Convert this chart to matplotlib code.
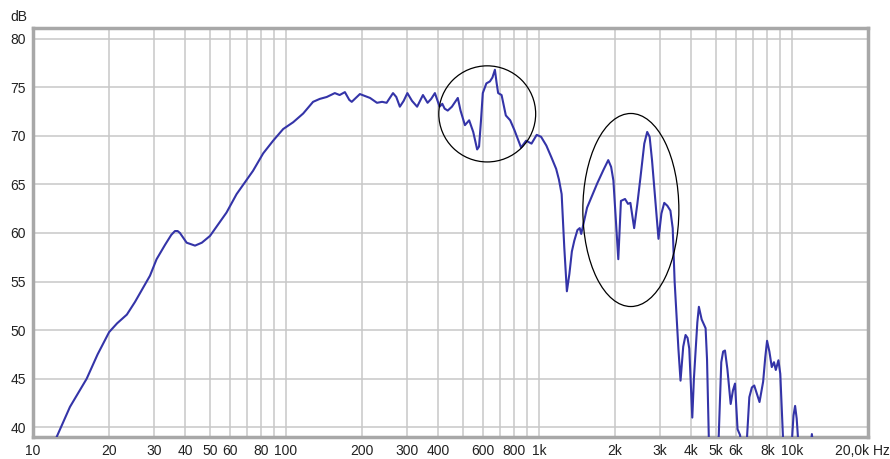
import matplotlib
matplotlib.use("Agg")
import matplotlib.pyplot as plt
from matplotlib.patches import Ellipse
from matplotlib.transforms import ScaledTranslation

plt.rcParams['font.family'] = ['Liberation Sans', 'DejaVu Sans']

# frequency response (Hz, dB)
freq = [12.4, 14.0, 16.3, 18.0, 20.0, 21.5, 23.5, 25.3, 29.0, 30.8, 33.3, 35.2, 36.4, 37.3, 38.1,
        40.5, 43.7, 46.5, 50.1, 54.0, 58.2, 63.8, 68.8, 74.1, 81.3, 89.0, 97.5,
        106.8, 117, 128, 136, 145, 156, 163, 171, 178, 182, 189, 196, 205, 215, 229, 240, 250,
        265, 273, 282, 292, 302, 315, 330, 348, 363, 375, 388, 405, 415, 424, 436, 453, 478, 490,
        510, 530, 550, 570, 580, 590, 600, 620, 640, 655, 670, 680, 690, 712, 740, 770, 800,
        850, 890, 935, 980, 1020, 1070, 1120, 1170, 1200, 1230, 1260, 1290, 1320, 1350,
        1380, 1420, 1450, 1470, 1550, 1620, 1700, 1800, 1880, 1930, 1970, 2060, 2110, 2190,
        2250, 2300, 2380, 2450, 2520, 2610, 2680, 2740, 2800, 2970, 3050, 3130, 3220, 3310,
        3380, 3440, 3560, 3630, 3720, 3800, 3870, 3930, 4040, 4100, 4170, 4230, 4290,
        4400, 4560, 4620, 4700, 4850, 5000, 5130, 5260, 5350, 5440, 5560, 5730, 5850, 5960,
        6100, 6240, 6400, 6600, 6790, 6950, 7100, 7450, 7700, 7850, 7980, 8150, 8330, 8500,
        8640, 8850, 9000, 9240, 9600, 10000, 10150, 10300, 10450, 10600, 11000, 11700, 12000,
        12300, 13000]
level = [39.0, 42.1, 45.0, 47.5, 49.8, 50.7, 51.6, 52.9, 55.6, 57.3, 58.8, 59.8, 60.2, 60.2, 60.0,
         59.0, 58.7, 59.0, 59.7, 60.9, 62.1, 64.0, 65.2, 66.4, 68.2, 69.5, 70.7,
         71.4, 72.3, 73.5, 73.8, 74.0, 74.4, 74.2, 74.5, 73.7, 73.5, 73.9, 74.3, 74.1, 73.9,
         73.4, 73.5, 73.4, 74.4, 74.0, 73.0, 73.6, 74.4, 73.6, 73.0, 74.2, 73.4, 73.8, 74.4,
         73.0, 73.3, 72.8, 72.6, 73.0, 73.9, 72.6, 71.1, 71.6, 70.4, 68.6, 68.9, 71.5, 74.4,
         75.4, 75.6, 76.0, 76.8, 75.5, 74.4, 74.2, 72.1, 71.6, 70.6, 68.8, 69.5, 69.2, 70.1,
         69.9, 69.0, 67.8, 66.6, 65.5, 64.0, 58.5, 54.0, 55.8, 58.1, 59.2, 60.3, 60.5, 59.9,
         62.6, 63.8, 65.1, 66.5, 67.5, 66.8, 65.4, 57.3, 63.3, 63.5, 63.0, 63.1, 60.5, 63.0,
         65.7, 69.2, 70.4, 69.9, 67.5, 59.4, 62.0, 63.1, 62.8, 62.3, 60.5, 55.0, 48.1, 44.8,
         48.3, 49.5, 49.2, 48.1, 41.0, 45.0, 48.1, 50.8, 52.4, 51.1, 50.2, 47.0, 38.5, 36.0,
         35.0, 38.5, 46.7, 47.8, 47.9, 46.0, 42.4, 43.8, 44.5, 39.8, 39.2, 37.0, 37.5, 43.1,
         44.1, 44.3, 42.6, 44.7, 47.2, 48.9, 47.8, 46.2, 46.7, 45.9, 46.9, 45.5, 38.5, 36.0,
         38.5, 41.2, 42.2, 40.9, 38.5, 36.0, 36.5, 39.3, 36.5, 35.0]

xticks = [10, 20, 30, 40, 50, 60, 80, 100, 200, 300, 400, 600, 800,
          1000, 2000, 3000, 4000, 5000, 6000, 8000, 10000, 20000]
xlabels = ['10', '20', '30', '40', '50', '60', '80', '100', '200', '300', '400',
           '600', '800', '1k', '2k', '3k', '4k', '5k', '6k', '8k', '10k', '20,0k Hz']
yticks = [40, 45, 50, 55, 60, 65, 70, 75, 80]

fig = plt.figure(figsize=(8.9, 4.59), dpi=100)
ax = fig.add_axes([33 / 890, 22 / 459, 835 / 890, 409 / 459])

ax.set_xscale('log')
ax.set_xlim(10, 20000)
ax.set_ylim(39, 81.1)

# grid at every 1..9 multiple of each decade
grid_f = [m * 10 ** d for d in range(1, 5) for m in range(1, 10) if m * 10 ** d <= 20000]
for g in grid_f:
    ax.axvline(g, color='#c8c8c8', lw=1.1, zorder=1)
for y in yticks:
    ax.axhline(y, color='#c8c8c8', lw=1.1, zorder=1)

ax.plot(freq, level, color='#3434a8', lw=1.5, zorder=3)

# highlighted regions
ax.add_patch(Ellipse((0.544, 0.790), 0.116, 0.235, transform=ax.transAxes,
                     fill=False, ec='black', lw=0.9, zorder=4))
ax.add_patch(Ellipse((0.716, 0.555), 0.115, 0.472, transform=ax.transAxes,
                     fill=False, ec='black', lw=0.9, zorder=4))

ax.set_xticks(xticks)
ax.set_xticklabels(xlabels)
ax.xaxis.set_minor_locator(plt.NullLocator())
ax.set_yticks(yticks)
ax.tick_params(length=0, labelsize=10, colors='#222222', pad=5)
last = ax.get_xticklabels()[-1]
last.set_transform(last.get_transform() + ScaledTranslation(-6 / 100, 0, fig.dpi_scale_trans))

for s in ax.spines.values():
    s.set_color('#a8a8a8')
    s.set_linewidth(2.5)

fig.text(10 / 890, 1 - 17 / 459, 'dB', fontsize=10, color='#222222', va='center')

fig.savefig('out.png', dpi=100)
